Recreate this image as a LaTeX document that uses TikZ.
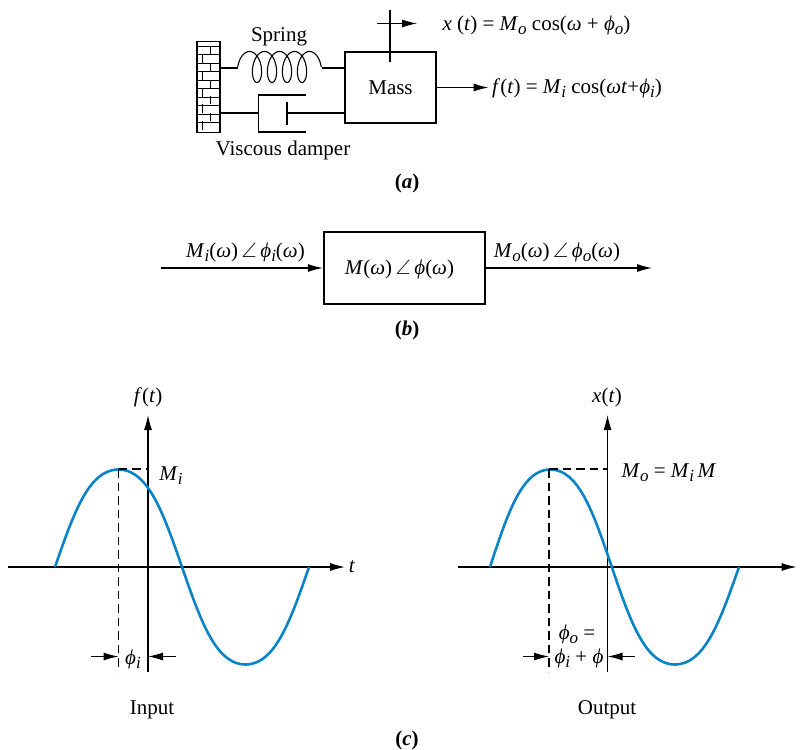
\documentclass[tikz,border=0pt]{standalone}
\usepackage{amsmath,amssymb}
\usepackage{fontspec}
\setmainfont{Liberation Serif}
\usepackage{tikz}
\usetikzlibrary{arrows.meta,calc,positioning}
\definecolor{wave}{HTML}{0A84C6}
\newcommand{\vr}[1]{\textit{#1}}
\newcommand{\sub}[1]{\raisebox{-4pt}{\fontsize{17}{17}\selectfont\textit{#1}}}
\newcommand{\ang}{\,$\angle$\,}

\begin{document}
\begin{tikzpicture}[x=1pt, y=-1pt, font=\fontsize{21}{23}\selectfont, line width=1.1pt,
  box/.style={draw, line width=2.2pt, inner sep=0pt, align=center},
  txt/.style={inner sep=0pt, align=center},
  arr/.style={-{Latex[length=15pt,width=8pt]}},
  wavy/.style={wave, line width=2.6pt},
  guide/.style={dashed, dash pattern=on 8.5pt off 5pt}]
\useasboundingbox (0,0) rectangle (805,749);
% (a) mass, spring and damper
\node[draw, inner sep=0pt, minimum width=23pt, minimum height=91pt] (wall) at (208.5,87) {};
\foreach \y in {46,54.5,...,130} \draw[line width=0.7pt] (197,\y) -- (220,\y);
\foreach \y in {46,63,80,96,113} {
  \draw[line width=0.7pt] (210,\y) -- ++(0,8.5);
  \draw[line width=0.7pt] (202,\y+8.5) -- ++(0,8.5);
}
\node[box, minimum width=91pt, minimum height=71pt] (mass) at (390.5,87.5) {Mass};
\coordinate (springl) at (238,68);
\coordinate (springr) at (322,68);
\draw (springl -| wall.east) -- (springl);
\draw (springr) -- (springr -| mass.west);
\draw plot[domain=-90:1530, samples=240, smooth, variable=\t] ({257+(\t-180)/24+8*sin(\t)}, {67-15.5*cos(\t)});
\coordinate (dampl) at (258.5,113);
\coordinate (pist) at (287,113);
\draw (dampl -| wall.east) -- (dampl);
\draw (306,95) -- (258.5,95) -- (258.5,132) -- (306,132);
\draw (287,102) -- (287,125);
\draw (pist) -- (pist -| mass.west);
\node[txt] (spring) at (279,37) {Spring};
\node[txt] (damper) at (283,150) {Viscous damper};
\node[txt] (xout) at (536.5,25) {\vr{x} (\vr{t}) = \vr{M}\sub{o} cos(\vr{ω} + \vr{ϕ}\sub{o})};
\node[txt] (fin) at (577,88) {\vr{f}(\vr{t}) = \vr{M}\sub{i} cos(\vr{ωt}+\vr{ϕ}\sub{i})};
\coordinate (xtop) at (390,10);
\coordinate (xbot) at (390,62);
\coordinate (xl) at (376.5,23.5);
\coordinate (xr) at (417,23.5);
\draw (xtop) -- (xbot);
\draw[arr] (xl) -- (xr);
\draw[arr, shorten >=3pt] (mass.east) -- (mass.east -| fin.west);
\node[txt] (cap a) at (407,183) {\textbf{(\textit{a})}};
% (b) block
\node[box, minimum width=161pt, minimum height=72pt] (block) at (404.5,268) {};
\node[txt] (blocklbl) at (399.5,269) {\vr{M}(\vr{ω})\ang\vr{ϕ}(\vr{ω})};
\coordinate (bin) at (161,268);
\coordinate (bout) at (652,268);
\draw[arr] (bin) -- (block.west);
\draw[arr] (block.east) -- (bout);
\node[txt] (lin) at (245.5,252) {\vr{M}\sub{i}(\vr{ω})\ang\vr{ϕ}\sub{i}(\vr{ω})};
\node[txt] (lout) at (557,252) {\vr{M}\sub{o}(\vr{ω})\ang\vr{ϕ}\sub{o}(\vr{ω})};
\node[txt] (cap b) at (407,330) {\textbf{(\textit{b})}};
% (c) input
\coordinate (ax1l) at (8,567);
\coordinate (ax1r) at (345,567);
\coordinate (ax1t) at (148,415);
\coordinate (ax1b) at (148,671.5);
\draw[arr] (ax1l) -- (ax1r);
\draw[arr] (ax1b) -- (ax1t);
\draw[wavy] plot[domain=0:360, samples=90, smooth, variable=\t] ({55+0.7056*\t}, {567-97.5*sin(\t)*(1+0.2*cos(\t)*cos(\t))});
\coordinate (pk1) at (118.5,469);
\draw[guide] (pk1) -- (118.5,671.5);
\draw[guide] (pk1) -- (pk1 -| ax1t);
\coordinate (ph1l) at (91,656.5);
\coordinate (ph1r) at (176,656.5);
\draw[arr] (ph1l) -- (118.5,656.5);
\draw[arr] (ph1r) -- (ph1r -| ax1t);
\node[txt] (ft) at (148,397) {\vr{f}(\vr{t})};
\node[txt] (tl) at (352,567) {\vr{t}};
\node[txt] (mi) at (171,476) {\vr{M}\sub{i}};
\node[txt] (phi) at (133,659) {\vr{ϕ}\sub{i}};
\node[txt] (input) at (152,710) {Input};
% (c) output
\coordinate (ax2l) at (458,567);
\coordinate (ax2r) at (796.5,567);
\coordinate (ax2t) at (607.5,415);
\coordinate (ax2b) at (607.5,671.5);
\draw[arr] (ax2l) -- (ax2r);
\draw[arr] (ax2b) -- (ax2t);
\draw[wavy] plot[domain=0:360, samples=90, smooth, variable=\t] ({490+0.6917*\t-2.7*sin(\t/2)}, {567-97.5*sin(\t)*(1+0.2*cos(\t)*cos(\t))});
\coordinate (pk2) at (549,469);
\draw[guide] (pk2) -- (549,671.5);
\draw[guide] (pk2) -- (pk2 -| ax2t);
\coordinate (ph2l) at (523,656.5);
\coordinate (ph2r) at (635,656.5);
\draw[arr] (ph2l) -- (549,656.5);
\draw[arr] (ph2r) -- (ph2r -| ax2t);
\node[txt] (xt) at (607,397) {\vr{x}(\vr{t})};
\node[txt, anchor=west] (mo) at (621,473) {\vr{M}\sub{o} = \vr{M}\sub{i}\,\vr{M}};
\node[txt] (pho) at (577,634) {\vr{ϕ}\sub{o} =};
\node[txt] (phs) at (579,658) {\vr{ϕ}\sub{i} + \vr{ϕ}};
\node[txt] (output) at (607,710) {Output};
\node[txt] (cap c) at (407,740) {\textbf{(\textit{c})}};
\end{tikzpicture}
\end{document}
